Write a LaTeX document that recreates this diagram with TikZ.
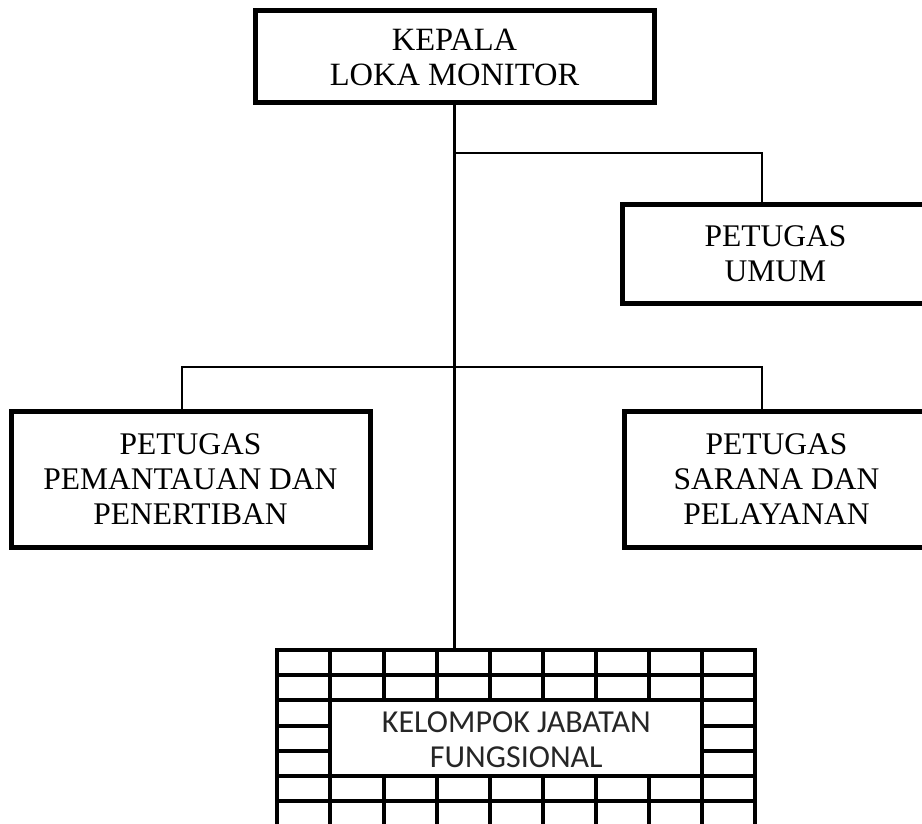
\documentclass[tikz,border=0pt]{standalone}
\usepackage{fontspec}
\setmainfont{Liberation Serif}
\newfontfamily\calibrifont{Carlito}
\tikzset{
  unitbox/.style={draw=black,line width=5pt,align=center,inner sep=0pt,
    font=\fontsize{31.5}{35}\selectfont},
  link/.style={black,line width=2.5pt},
  brickline/.style={black,line width=4pt,line cap=rect},
}
\begin{document}
\begin{tikzpicture}[x=1pt,y=-1pt]
   \useasboundingbox (0,0) rectangle (922,824);
   \clip (0,0) rectangle (922,824);
   % boxes
   \node [unitbox,minimum width=399pt,minimum height=92pt,font=\fontsize{32.5}{35}\selectfont] (kepala) at (454.5,57) {KEPALA\\LOKA MONITOR};
   \node [unitbox,minimum width=306pt,minimum height=98pt] (umum) at (775.5,254) {PETUGAS\\UMUM};
   \node [unitbox,minimum width=359pt,minimum height=136pt] (pantau) at (190.5,479) {PETUGAS\\PEMANTAUAN DAN\\PENERTIBAN};
   \node [unitbox,minimum width=304pt,minimum height=136pt] (sarana) at (776.5,479) {PETUGAS\\SARANA DAN\\PELAYANAN};
   \node [align=center,inner sep=0pt,outer sep=0pt,minimum width=478pt,minimum height=176.4pt,
          font=\calibrifont\fontsize{32}{35.5}\selectfont,text=black!85] (fungsi) at (516.3,739.5) {KELOMPOK JABATAN\\FUNGSIONAL};
   % brick frame round the last box
   \foreach \r in {0,1,2,5,6,7}
     \draw [brickline] (277.3,{650+25.2*\r}) -- (755.2,{650+25.2*\r});
   \foreach \r in {3,4} {
     \draw [brickline] (277.3,{650+25.2*\r}) -- (330.4,{650+25.2*\r});
     \draw [brickline] (702.1,{650+25.2*\r}) -- (755.2,{650+25.2*\r});
   }
   \foreach \c in {0,1,8,9}
     \draw [brickline] ({277.3+53.1*\c},650) -- ({277.3+53.1*\c},826.4);
   \foreach \c in {2,...,7} {
     \draw [brickline] ({277.3+53.1*\c},650) -- ({277.3+53.1*\c},700.4);
     \draw [brickline] ({277.3+53.1*\c},776) -- ({277.3+53.1*\c},826.4);
   }
   % connectors
   \coordinate (fork1) at (kepala.south |- 0,153);
   \coordinate (fork2) at (kepala.south |- 0,367);
   \draw [link] (kepala.south) -- (kepala.south |- 0,650);
   \draw [link] (fork1) -| ([xshift=-13.5pt]umum.north);
   \draw [link] ([xshift=-8.5pt]pantau.north) |- (fork2) -| ([xshift=-14.5pt]sarana.north);
\end{tikzpicture}
\end{document}
